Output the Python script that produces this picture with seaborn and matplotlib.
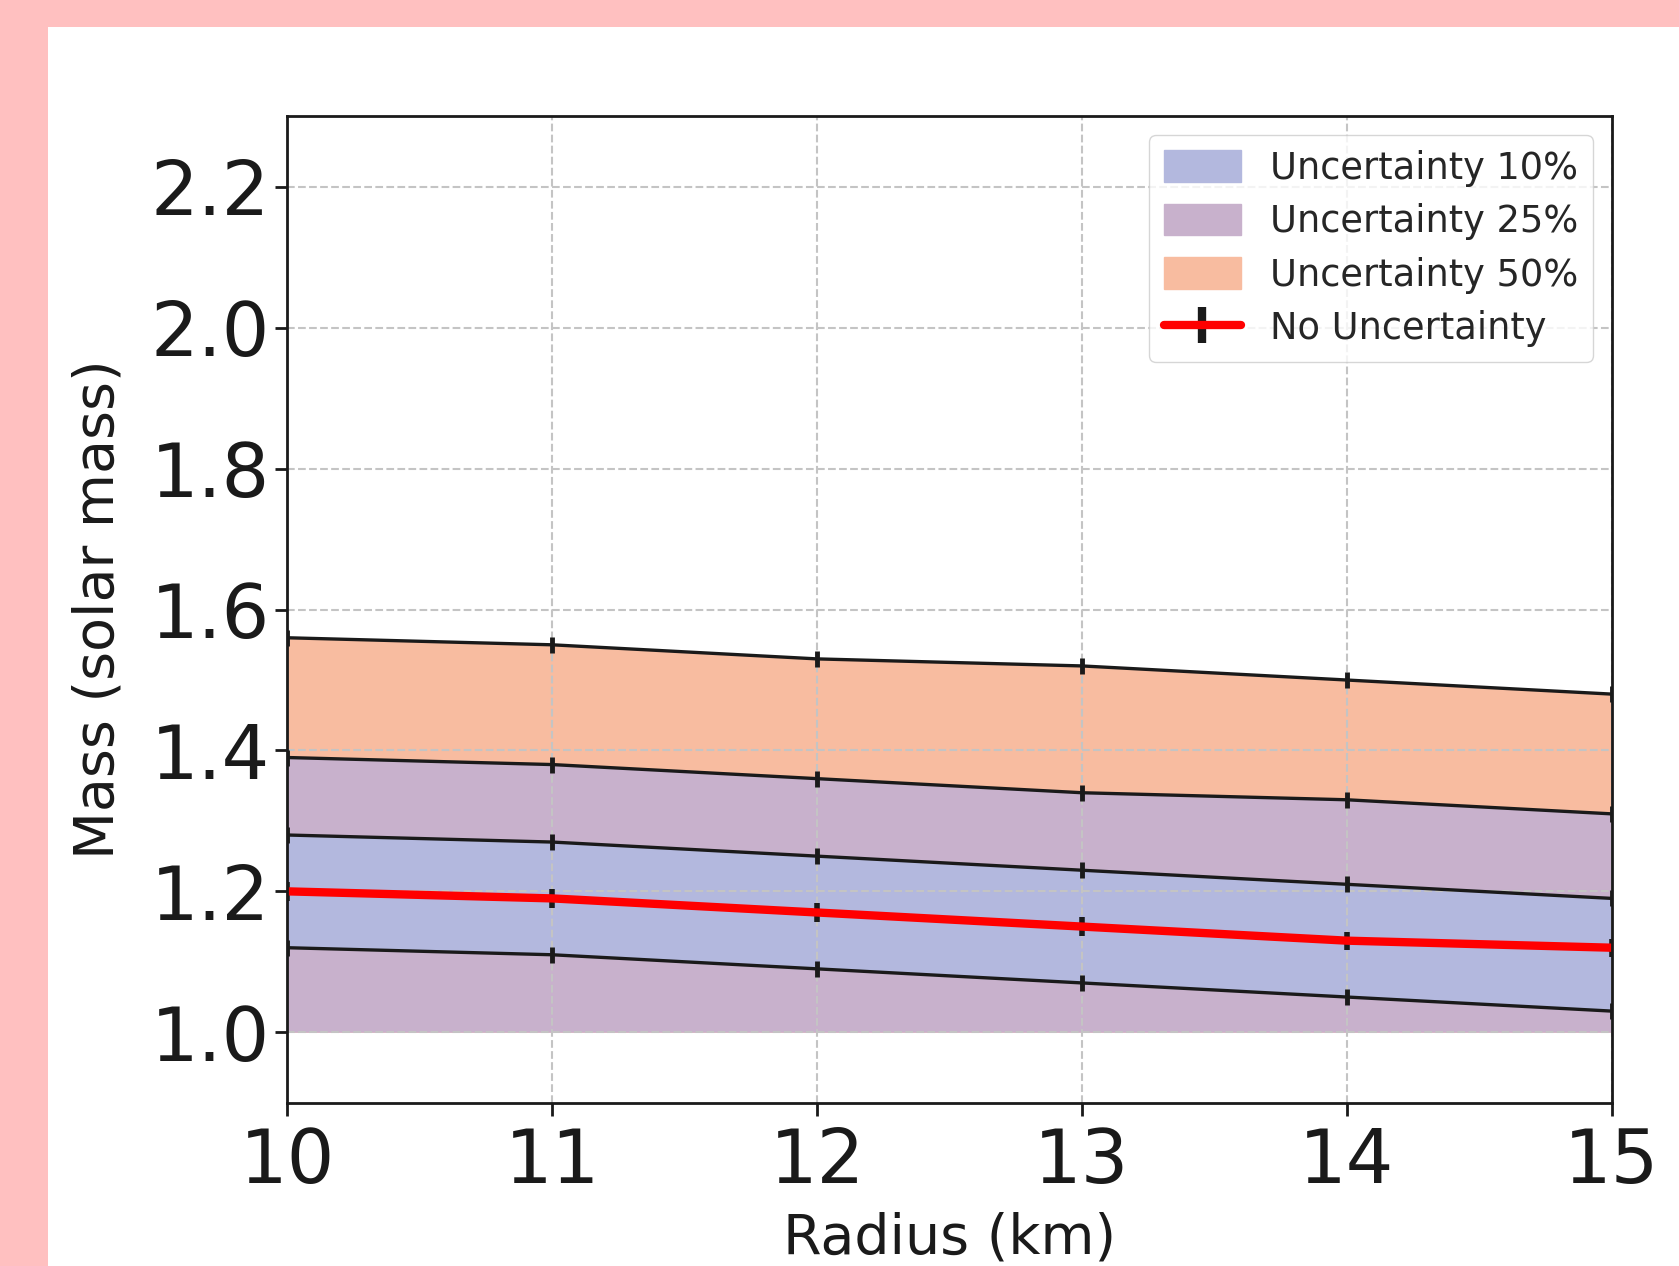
import numpy as np
import pandas as pd
import matplotlib
matplotlib.use("Agg")
import matplotlib.pyplot as plt
from matplotlib.patches import Patch, Rectangle
import seaborn as sns

# radius grid and mass curves
radius = [10, 11, 12, 13, 14, 15]
mass_nominal = [1.20, 1.19, 1.17, 1.15, 1.13, 1.12]
low_10 = [1.12, 1.11, 1.09, 1.07, 1.05, 1.03]
high_10 = [1.28, 1.27, 1.25, 1.23, 1.21, 1.19]
high_25 = [1.39, 1.38, 1.36, 1.34, 1.33, 1.31]
high_50 = [1.56, 1.55, 1.53, 1.52, 1.50, 1.48]
mass_floor = [1.0, 1.0, 1.0, 1.0, 1.0, 1.0]

labels = ['Uncertainty 10%', 'Uncertainty 25%', 'Uncertainty 50%', 'No Uncertainty']

sns.set_style("whitegrid", {"grid.linestyle": "--", "grid.color": "#c4c4c4",
                            "axes.edgecolor": "#1a1a1a", "xtick.bottom": True,
                            "ytick.left": True})
plt.rcParams['font.family'] = ['DejaVu Sans']

df = pd.DataFrame({'radius': radius, 'nominal': mass_nominal, 'low10': low_10,
                   'high10': high_10, 'high25': high_25, 'high50': high_50,
                   'floor': mass_floor})

fig = plt.figure(figsize=(16.79, 12.66), dpi=100, facecolor='#ffc0c0')
# white page area, pink strip left and top
fig.patches.append(Rectangle((48/1679, 0), 1, 1 - 27/1266, transform=fig.transFigure,
                             facecolor='white', edgecolor='none', zorder=-10))
ax = fig.add_axes([0.171, 0.129, 0.789, 0.779])

c10, c25, c50 = '#b3b8de', '#c8b1cc', '#f8bca0'
ax.fill_between(df.radius, df.floor, df.high50, color=c50, lw=0, zorder=1)
ax.fill_between(df.radius, df.floor, df.high25, color=c25, lw=0, zorder=1)
ax.fill_between(df.radius, df.low10, df.high10, color=c10, lw=0, zorder=1)

for col in ['low10', 'high10', 'high25', 'high50']:
    sns.lineplot(data=df, x='radius', y=col, ax=ax, color='#1a1a1a', lw=2.4,
                 marker='|', markersize=12, markeredgewidth=3.5,
                 markeredgecolor='#1a1a1a', zorder=3)

ax.errorbar(df.radius, df.nominal, yerr=0.013, color='red', lw=6,
            ecolor='#1a1a1a', elinewidth=4, zorder=4)

ax.set_xlim(10, 15)
ax.set_ylim(0.9, 2.3)
ax.set_xticks(radius)
ax.set_yticks([1.0, 1.2, 1.4, 1.6, 1.8, 2.0, 2.2])
ax.set_yticklabels(['1.0', '1.2', '1.4', '1.6', '1.8', '2.0', '2.2'])
ax.tick_params(axis='both', labelsize=54, length=9, width=2, color='#1a1a1a',
               labelcolor='#1a1a1a')
ax.tick_params(axis='x', pad=8)
ax.set_axisbelow(False)
ax.grid(True, lw=1.5, zorder=2.5)
for s in ax.spines.values():
    s.set_linewidth(2)
    s.set_zorder(5)
ax.set_xlabel('Radius (km)', fontsize=40, color='#1a1a1a', labelpad=9)
ax.set_ylabel('Mass (solar mass)', fontsize=40, color='#1a1a1a', labelpad=18)

eb = ax.errorbar([], [], yerr=[], color='red', lw=6, ecolor='#1a1a1a', elinewidth=6)
handles = [Patch(color=c10), Patch(color=c25), Patch(color=c50), eb]
ax.legend(handles, labels, loc='upper right', fontsize=26.5, frameon=True,
          framealpha=0.8, edgecolor='#cccccc', labelspacing=0.45,
          handleheight=0.95, handlelength=2.1)

plt.savefig('out.png', dpi=100, facecolor=fig.get_facecolor())
